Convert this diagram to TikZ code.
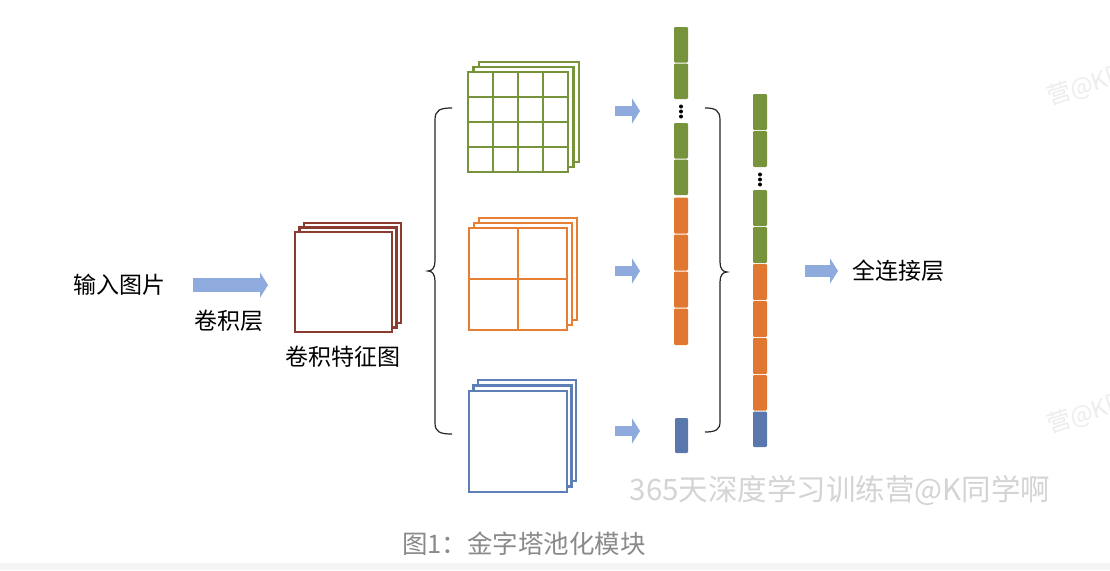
\documentclass[tikz,border=0pt]{standalone}
\usepackage{fontspec}
\newfontfamily\cjk{Noto Sans CJK SC}
\usetikzlibrary{arrows.meta}
\definecolor{mapred}{HTML}{8B3B30}
\definecolor{gridgreen}{HTML}{77933C}
\definecolor{gridorange}{HTML}{E67E34}
\definecolor{gridblue}{HTML}{5E7FB5}
\definecolor{arrowblue}{HTML}{8FAADC}
\definecolor{vgreen}{HTML}{77933C}
\definecolor{vorange}{HTML}{E07832}
\definecolor{vblue}{HTML}{5B78AE}
\definecolor{captiongray}{HTML}{8A8A8A}
\definecolor{wmgray}{HTML}{D4D4D4}
\newcommand{\mapstack}[8]{%
  \foreach \k in {2,1,0} {
    \filldraw[draw=#1, fill=white, line width=2.9pt]
      ({#2+\k*#6},{#3+\k*#7}) rectangle ({#4+\k*#6},{#5+\k*#7});
  }
  \coordinate (#8-nw) at (#2,#3);
  \coordinate (#8-se) at (#4,#5);
}
\begin{document}
\begin{tikzpicture}[x=1pt,y=-1pt,
  lbl/.style={font=\cjk\fontsize{23}{23}\selectfont, text=black, inner sep=0pt},
  blockarrow/.style={arrowblue, line width=#1, -{Triangle[length=8pt,width=25pt]}},
  blockarrow/.default=10pt,
  vblock/.style={fill=#1, rounded corners=1.2pt},
  dot/.style={circle, fill=black, inner sep=0pt, minimum size=4pt},
  gridline/.style={draw=#1, line width=2.9pt},
  bracestyle/.style={draw=black!85, line width=1.2pt},
  faintwm/.style={font=\cjk\fontsize{24}{24}\selectfont, text=black!7, inner sep=0pt, anchor=base west, rotate=18}
]
\useasboundingbox (0,0) rectangle (1110,570);
\fill[white] (0,0) rectangle (1110,570);
\fill[black!4] (0,563) rectangle (1110,570);

% input
\node[lbl] (input) at (119,285) {输入图片};
\coordinate (a1s) at (193,285);
\coordinate (a1e) at (268,285);
\draw[blockarrow=14pt] (a1s) -- (a1e);
\node[lbl] (conv) at (229,321) {卷积层};

% feature map
\mapstack{mapred}{295}{232}{392}{332}{4.5}{-4.5}{fmap}
\node[lbl] (fmaplbl) at (343,357) {卷积特征图};

% left brace
\draw[bracestyle] (452,108) .. controls (440,108) and (435,110) .. (435,120)
  -- (435,261) .. controls (435,268) and (432,271) .. (428,271)
  .. controls (432,271) and (435,274) .. (435,281)
  -- (435,423) .. controls (435,432) and (440,434) .. (452,434);

% green 4x4
\mapstack{gridgreen}{468}{72}{568}{172}{5.5}{-5}{gmap}
\foreach \t in {493,518,543} {
  \draw[gridline=gridgreen] (\t,72) -- (\t,172);
  \draw[gridline=gridgreen] (468,\t-396) -- (568,\t-396);
}
% orange 2x2
\mapstack{gridorange}{469}{228}{567}{330}{5}{-5}{omap}
\draw[gridline=gridorange] (518,228) -- (518,330);
\draw[gridline=gridorange] (469,279) -- (567,279);
% blue
\mapstack{gridblue}{469}{391}{567}{492}{4.5}{-5.5}{bmap}

% small arrows
\coordinate (s1s) at (615,111); \coordinate (s1e) at (640,111);
\coordinate (s2s) at (615,271); \coordinate (s2e) at (640,271);
\coordinate (s3s) at (615,431); \coordinate (s3e) at (640,431);
\draw[blockarrow] (s1s) -- (s1e);
\draw[blockarrow] (s2s) -- (s2e);
\draw[blockarrow] (s3s) -- (s3e);

% left vectors
\fill[vblock=vgreen] (674,27) rectangle (688,62.5);
\fill[vblock=vgreen] (674,63.5) rectangle (688,99);
\node[dot] (d1) at (681,106.5) {};
\node[dot] (d2) at (681,111.5) {};
\node[dot] (d3) at (681,116.5) {};
\fill[vblock=vgreen] (674,123) rectangle (688,158.5);
\fill[vblock=vgreen] (674,159.5) rectangle (688,195);
\fill[vblock=vorange] (674,197.5) rectangle (688,233.5);
\fill[vblock=vorange] (674,234.5) rectangle (688,270.5);
\fill[vblock=vorange] (674,271.5) rectangle (688,307.5);
\fill[vblock=vorange] (674,308.5) rectangle (688,345);
\fill[vblock=vblue] (675,418) rectangle (688,453);

% right brace
\draw[bracestyle] (705,108) .. controls (715,108) and (720,110) .. (720,120)
  -- (720,262) .. controls (720,269) and (723,272) .. (727,272)
  .. controls (723,272) and (720,275) .. (720,282)
  -- (720,422) .. controls (720,430) and (715,432) .. (705,432);

% right vector
\fill[vblock=vgreen] (753,94) rectangle (767,130);
\fill[vblock=vgreen] (753,131) rectangle (767,167);
\node[dot] (e1) at (760,174.5) {};
\node[dot] (e2) at (760,179.5) {};
\node[dot] (e3) at (760,184.5) {};
\fill[vblock=vgreen] (753,190) rectangle (767,226);
\fill[vblock=vgreen] (753,227) rectangle (767,263);
\fill[vblock=vorange] (753,264) rectangle (767,300);
\fill[vblock=vorange] (753,301) rectangle (767,337);
\fill[vblock=vorange] (753,338) rectangle (767,374);
\fill[vblock=vorange] (753,375) rectangle (767,410.5);
\fill[vblock=vblue] (753,411.5) rectangle (767,447);

% to fully connected
\coordinate (a2s) at (805,271);
\coordinate (a2e) at (838,271);
\draw[blockarrow=12pt] (a2s) -- (a2e);
\node[lbl] (fc) at (898,271) {全连接层};

% watermark
\node[font=\cjk\fontsize{29.5}{29.5}\selectfont, text=wmgray, inner sep=0pt] (wm) at (840,491) {365天深度学习训练营@K同学啊};
\begin{scope}
  \clip (0,0) rectangle (1110,570);
  \node[faintwm] (wm2) at (1050,106) {营@K同学啊};
  \node[faintwm] (wm3) at (1050,434) {营@K同学啊};
\end{scope}

% caption
\node[font=\cjk\fontsize{25.5}{25.5}\selectfont, text=captiongray, inner sep=0pt] (cap) at (524,544) {图1：金字塔池化模块};
\end{tikzpicture}
\end{document}
